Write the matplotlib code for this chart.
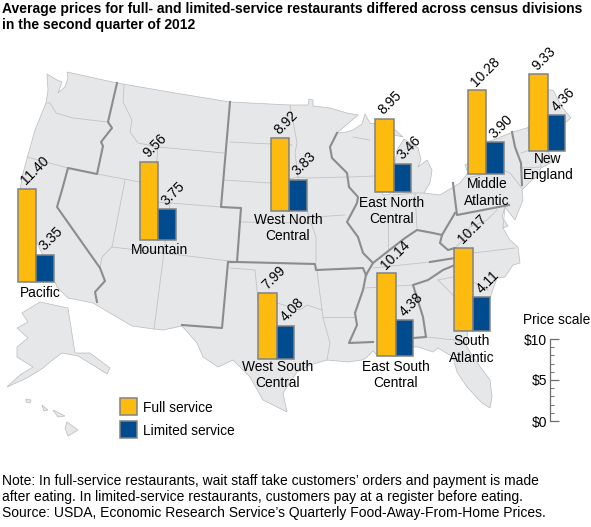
#!/usr/bin/env python3
# Restaurant prices by census division, small bars on a US map
import matplotlib
matplotlib.use("Agg")
import matplotlib.pyplot as plt
from matplotlib.patches import Polygon

plt.rcParams["font.family"] = ["Liberation Sans", "DejaVu Sans"]

# ---- data ----
DIVISIONS = ["Pacific", "Mountain", "West North\nCentral", "East North\nCentral",
             "Middle\nAtlantic", "New\nEngland", "West South\nCentral",
             "East South\nCentral", "South\nAtlantic"]
FULL_SERVICE = [11.40, 9.56, 8.92, 8.95, 10.28, 9.33, 7.99, 10.14, 10.17]
LIMITED_SERVICE = [3.35, 3.75, 3.83, 3.46, 3.90, 4.36, 4.08, 4.38, 4.11]
SCALE_TICKS = [0, 5, 10]
SCALE_LABELS = ["$0", "$5", "$10"]

TITLE = ("Average prices for full- and limited-service restaurants differed across census divisions\n"
         "in the second quarter of 2012")
NOTE = ("Note: In full-service restaurants, wait staff take customers\u2019 orders and payment is made\n"
        "after eating. In limited-service restaurants, customers pay at a register before eating.\n"
        "Source: USDA, Economic Research Service\u2019s Quarterly Food-Away-From-Home Prices.")

# ---- layout, in image pixels ----
W, H = 591, 527
PX_PER_DOLLAR = 8.2
BAR_LEFT = [17.5, 139.5, 270.5, 375, 467.5, 529, 258, 377, 454]
BAR_BASE = [282, 240, 211, 192, 174, 151, 359, 356, 331]
LABEL_X = [40, 160, 288, 392, 487, 548, 277.5, 396, 472]
LABEL_Y = [293, 250, 228, 211, 192.5, 167, 375, 375, 349.5]
FULL_W = 18.5
LIM_W = 17.5

YELLOW = "#fdbb10"
BLUE = "#004b8d"
EDGE = "#808285"
LAND = "#e6e7e8"
THIN = "#c2c3c5"
THICK = "#8b8c8e"

# ---- map outlines, traced by eye in image pixels ----
US_OUTLINE = [(47, 74), (57, 80), (62, 82), (58, 93), (65, 87), (68, 78), (67, 72), (117, 83), (175, 93),
              (230, 102), (290, 105), (308, 105), (309, 99), (313, 100), (313, 106), (330, 108),
              (347, 113), (358, 115), (337, 133), (347, 132), (353, 130), (362, 124), (365, 114),
              (370, 123), (393, 128), (403, 137), (394, 135), (385, 142), (380, 170), (383, 195),
              (390, 194), (394, 170), (397, 150), (404, 139), (418, 148), (421, 160), (418, 167),
              (427, 160), (432, 170), (430, 183), (424, 193), (440, 195), (460, 183), (468, 173),
              (465, 165), (478, 158), (487, 142), (493, 140), (513, 132), (530, 127), (535, 100),
              (547, 90), (553, 90), (562, 107), (571, 118), (565, 123), (556, 132), (548, 150),
              (552, 162), (541, 168), (537, 177), (532, 180), (522, 190), (523, 200), (515, 220),
              (505, 207), (502, 217), (508, 226), (503, 228), (510, 240), (518, 247), (520, 263),
              (513, 265), (505, 277), (497, 278), (490, 298), (478, 310), (468, 330), (466, 345),
              (473, 357), (490, 380), (492, 397), (490, 408), (482, 403), (467, 387), (457, 372),
              (453, 357), (438, 348), (433, 352), (418, 347), (412, 347), (395, 350), (378, 356),
              (373, 351), (366, 358), (362, 360), (348, 362), (327, 360), (310, 365), (297, 372),
              (283, 393), (287, 412), (263, 400), (250, 377), (233, 360), (218, 367), (203, 357),
              (197, 343), (182, 326), (163, 330), (154, 329), (132, 326), (93, 303), (68, 298),
              (57, 287), (50, 270), (38, 245), (28, 215), (20, 190), (23, 173), (28, 155), (35, 130),
              (46, 103), (48, 90)]
ALASKA = [(40, 302), (68, 308), (75, 353), (90, 353), (110, 368), (107, 374), (93, 365), (78, 356),
          (62, 353), (50, 362), (43, 368), (27, 378), (7, 387), (20, 375), (33, 367), (17, 357),
          (17, 347), (28, 338), (17, 328), (28, 322), (22, 313)]
HAWAII = [[(67, 422), (78, 430), (68, 436), (65, 428)],
          [(53, 410), (65, 416), (58, 417)],
          [(42, 405), (48, 410), (44, 411)],
          [(26, 399), (31, 400), (30, 403), (26, 402)]]

STATE_LINES = [
    [(46, 103), (50, 103), (56, 113), (73, 118), (108, 122)],
    [(27, 157), (68, 168)],
    [(97, 174), (140, 182), (155, 183)],
    [(124, 85), (123, 102), (132, 120), (130, 132), (138, 143), (158, 147)],
    [(158, 147), (224, 153)],
    [(158, 147), (153, 202), (170, 203), (221, 207)],
    [(125, 180), (112, 247)],
    [(112, 247), (163, 253), (238, 262)],
    [(170, 203), (163, 260), (154, 329)],
    [(112, 247), (102, 257), (100, 268)],
    [(230, 142), (292, 145)],
    [(224, 180), (270, 183), (298, 177), (308, 178), (347, 177)],
    [(240, 222), (310, 223)],
    [(290, 105), (297, 143), (295, 153), (298, 177), (310, 220), (316, 237), (316, 262)],
    [(315, 217), (345, 215)],
    [(230, 268), (255, 270), (258, 300), (277, 303), (300, 310), (307, 305), (322, 310)],
    [(322, 310), (323, 318), (330, 343), (327, 360)],
    [(323, 317), (355, 317)],
    [(317, 271), (322, 310)],
    [(365, 288), (413, 285)],
    [(373, 268), (430, 262)],
    [(395, 285), (397, 340)],
    [(473, 253), (515, 248)],
    [(438, 280), (453, 277), (473, 282), (488, 290)],
    [(438, 280), (455, 297), (470, 325)],
    [(426, 337), (455, 340), (465, 344)],
    [(388, 220), (388, 250)],
    [(415, 193), (417, 228)],
    [(393, 195), (415, 193), (424, 193)],
    [(349, 177), (375, 176)],
    [(353, 137), (370, 140)],
    [(467, 178), (503, 170), (510, 173), (522, 188)],
    [(528, 127), (530, 150), (521, 153)],
    [(521, 168), (541, 167), (541, 160)],
    [(505, 206), (503, 228)],
    [(455, 248), (463, 240), (470, 227), (487, 220), (497, 210)],
    [(455, 258), (470, 254)],
]

DIVISION_LINES = [
    [(117, 83), (108, 122), (112, 128), (101, 142), (103, 146), (97, 174), (68, 168), (62, 190), (57, 207),
     (100, 268), (105, 281), (95, 292), (97, 302)],
    [(230, 102), (221, 207), (241, 208), (237, 262), (228, 262), (222, 328), (182, 325)],
    [(228, 262), (237, 262), (315, 264), (316, 270), (363, 268), (366, 275)],
    [(366, 275), (363, 290), (355, 313), (357, 325), (349, 343), (373, 342)],
    [(337, 133), (330, 147), (332, 158), (347, 173), (349, 187), (358, 197), (357, 203), (347, 222),
     (358, 237), (363, 253), (373, 263), (366, 275)],
    [(373, 263), (387, 252), (405, 238), (417, 230), (433, 233), (442, 235), (455, 213)],
    [(453, 183), (457, 215), (509, 205)],
    [(512, 132), (515, 147), (521, 163), (522, 185)],
    [(442, 235), (440, 243), (448, 250), (455, 248), (455, 258), (430, 262)],
    [(455, 258), (455, 265), (443, 270), (428, 280), (413, 285), (423, 317), (426, 337), (413, 338)],
]

# ---- figure ----
fig = plt.figure(figsize=(W / 100, H / 100), dpi=100)
ax = fig.add_axes([0, 0, 1, 1])
ax.set_xlim(0, W)
ax.set_ylim(H, 0)
ax.axis("off")

for shape in [US_OUTLINE, ALASKA] + HAWAII:
    ax.add_patch(Polygon(shape, closed=True, facecolor=LAND, edgecolor="#b9babc", linewidth=0.5))
for line in STATE_LINES:
    ax.plot(*zip(*line), color=THIN, linewidth=0.6, solid_joinstyle="round")
for line in DIVISION_LINES:
    ax.plot(*zip(*line), color=THICK, linewidth=1.5, solid_joinstyle="round")

# bars, y is flipped so the heights go negative
for i, name in enumerate(DIVISIONS):
    x0 = BAR_LEFT[i]
    base = BAR_BASE[i]
    ax.bar(x0, -FULL_SERVICE[i] * PX_PER_DOLLAR, FULL_W, bottom=base, align="edge",
           color=YELLOW, edgecolor=EDGE, linewidth=1.1, zorder=3)
    ax.bar(x0 + FULL_W, -LIMITED_SERVICE[i] * PX_PER_DOLLAR, LIM_W, bottom=base, align="edge",
           color=BLUE, edgecolor=EDGE, linewidth=1.1, zorder=3)
    ax.text(x0 + 6, base - FULL_SERVICE[i] * PX_PER_DOLLAR - 6, f"{FULL_SERVICE[i]:.2f}",
            rotation=45, rotation_mode="anchor", ha="left", va="center", fontsize=10, zorder=4)
    ax.text(x0 + FULL_W + 6, base - LIMITED_SERVICE[i] * PX_PER_DOLLAR - 6, f"{LIMITED_SERVICE[i]:.2f}",
            rotation=45, rotation_mode="anchor", ha="left", va="center", fontsize=10, zorder=4)
    ax.text(LABEL_X[i], LABEL_Y[i], name, ha="center", va="center", fontsize=9.9,
            linespacing=1.2, zorder=4)

# legend
ax.bar(119.5, 17, 17, bottom=398, align="edge", color=YELLOW, edgecolor=EDGE, linewidth=1.1)
ax.bar(119.5, 17, 17, bottom=421, align="edge", color=BLUE, edgecolor=EDGE, linewidth=1.1)
ax.text(143, 407.5, "Full service", va="center", fontsize=9.9)
ax.text(143, 431, "Limited service", va="center", fontsize=9.9)

# title and note
ax.text(2, 17, TITLE, va="center", fontsize=10, fontweight="bold", linespacing=1.2)
ax.text(2, 497, NOTE, va="center", fontsize=10, linespacing=1.15)

# price scale
ax.text(523, 320, "Price scale", va="center", fontsize=9.9)
sc = fig.add_axes([550 / W, (H - 421) / H, 10 / W, 82 / H])
sc.set_ylim(0, 10)
sc.patch.set_visible(False)
sc.set_xticks([])
for side in ["top", "right", "bottom"]:
    sc.spines[side].set_visible(False)
sc.spines["left"].set_color("#6d6e71")
sc.spines["left"].set_linewidth(0.9)
sc.set_yticks(SCALE_TICKS)
sc.set_yticklabels(SCALE_LABELS, fontsize=10)
sc.set_yticks(list(range(11)), minor=True)
sc.tick_params(axis="y", which="major", direction="in", length=6.5, width=0.9, color="#6d6e71", pad=2)
sc.tick_params(axis="y", which="minor", direction="in", length=3, width=0.7, color="#6d6e71")

fig.savefig("out.png", dpi=100)
